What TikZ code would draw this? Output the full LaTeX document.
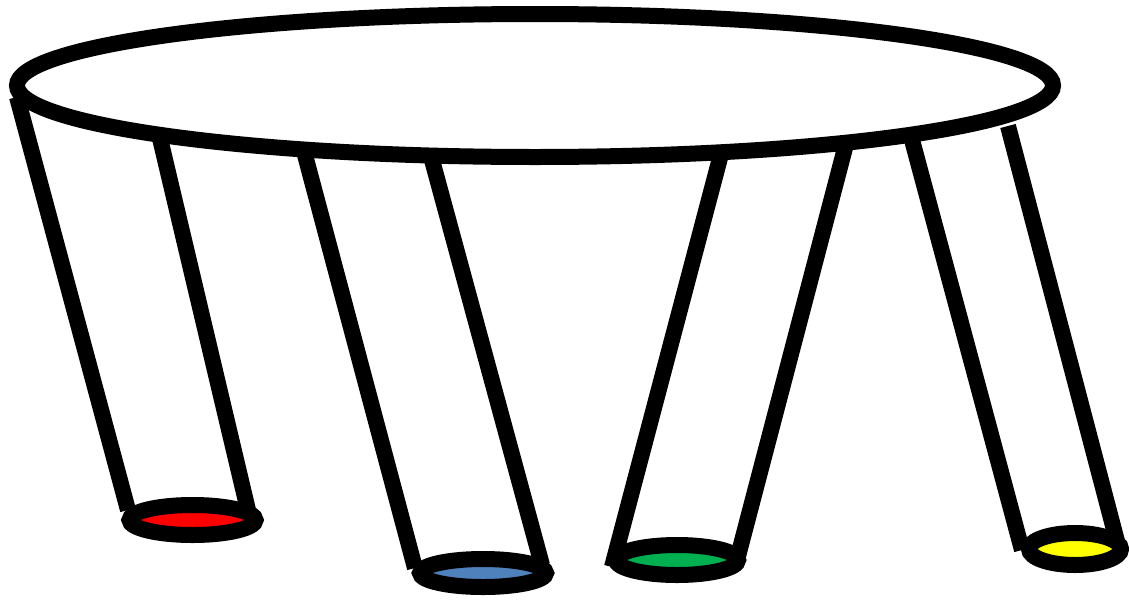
\documentclass[tikz,border=0pt]{standalone}
\usepackage{xcolor}
\usepackage{tikz}
\definecolor{FootRed}{HTML}{FF0000}
\definecolor{FootBlue}{HTML}{4F81BD}
\definecolor{FootGreen}{HTML}{00B050}
\definecolor{FootYellow}{HTML}{FFFF00}
\begin{document}
\begin{tikzpicture}[x=0.5pt,y=-0.5pt,line width=8pt]
\path[use as bounding box] (0,0) rectangle (1129,600);
% legs
\draw (17,97) -- (128,510);
\draw (158,130) -- (248,510);
\draw (305,155) -- (415,568);
\draw (432,160) -- (542,565);
\draw (720,158) -- (612,567);
\draw (845,148) -- (737,560);
\draw (912,140) -- (1022,550);
\draw (1008,126) -- (1118,545);
% table top
\draw (535,85.5) ellipse [x radius=518, y radius=71.5];
% feet
\draw[fill=FootRed] (192.5,520) ellipse [x radius=63, y radius=15];
\draw[fill=FootBlue] (483,573) ellipse [x radius=63, y radius=14];
\draw[fill=FootGreen] (677,560) ellipse [x radius=61, y radius=15];
\draw[fill=FootYellow] (1075,549) ellipse [x radius=46, y radius=16];
\end{tikzpicture}
\end{document}
